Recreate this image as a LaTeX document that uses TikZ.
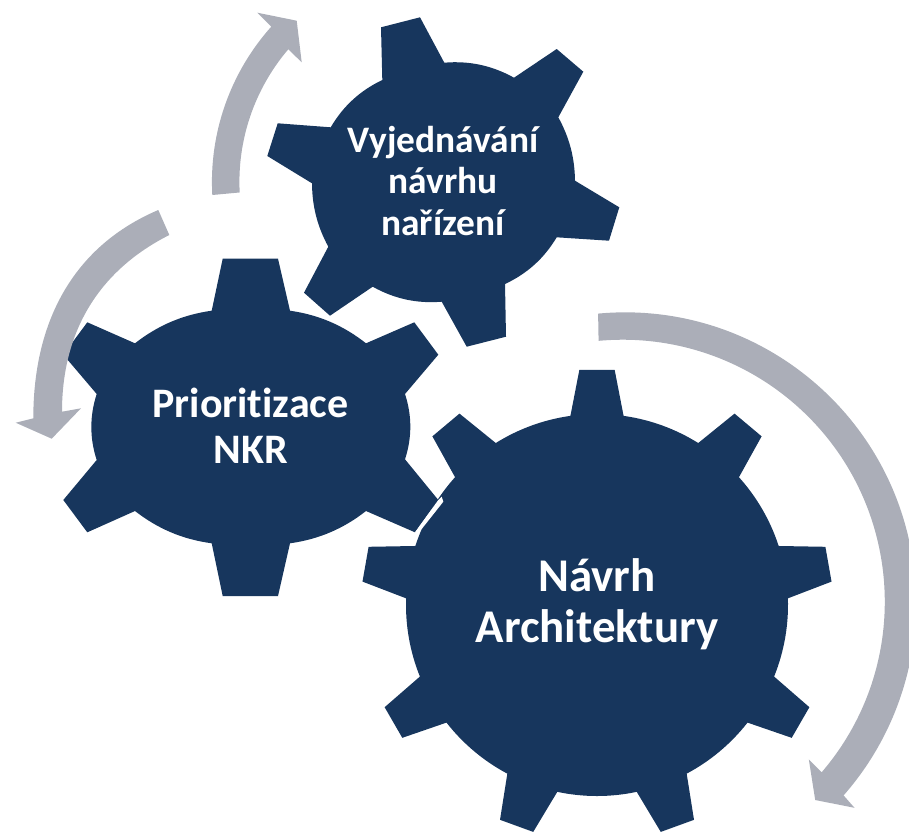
\documentclass[tikz,border=0pt]{standalone}
\usepackage{fontspec}
\setmainfont{Carlito}[Ligatures=CommonOff]
\definecolor{gearblue}{HTML}{17365D}
\definecolor{cyclegray}{HTML}{ABAEB8}

\begin{document}
\begin{tikzpicture}
[x=1pt, y=-1pt,
gearfill/.style = {fill=gearblue},
gearbend/.style = {bend left=#1, looseness=.9},
cyclearrow/.style = {fill=cyclegray},
gapwedge/.style = {fill=white},
geartext/.style 2 args = {text=white, align=center, inner sep=0pt, font=\bfseries\fontsize{#1}{#2}\selectfont}]
\clip (0,0) rectangle (909,833);

% big gear, nine equal teeth
\begin{scope}[shift={(597,605)}]
\fill[gearfill] (-98:191)
  \foreach \a in {-90,-50,...,230} {
    -- (\a-4.3:235.7) -- (\a+4.3:235.7) -- (\a+8:191)
    arc[start angle=\a+8, delta angle=24, radius=191]
  } -- cycle;
\end{scope}

% wide gear
\fill[gearfill] (211.7,310.7) -- (222.7,258.7) -- (278,258.7) -- (290,310.7)
  to[gearbend=15] (366,343.3) -- (414.3,322.3) -- (438.3,354.7) -- (405,394)
  to[gearbend=18] (405,459.3) -- (438.3,500) -- (415,532.3) -- (366,511)
  to[gearbend=15] (290,543.3) -- (278,596) -- (222.7,596) -- (211.7,543.3)
  to[gearbend=15] (135,511) -- (87.3,532.3) -- (63.3,500) -- (96.7,460)
  to[gearbend=18] (96.7,394) -- (63.3,354.7) -- (87.3,322.3) -- (135,343.3)
  to[gearbend=15] cycle;
\fill[gapwedge] (415,532.3) -- (421.7,529) -- (443.3,501.7) -- (441.7,496.7) -- (438.3,500) -- cycle;

% tilted gear
\fill[gearfill] (382.3,80) -- (381,27.3) -- (420,17.3) -- (444.3,62.7)
  to[gearbend=17] (514,77.7) -- (556.7,49) -- (583.3,71.7) -- (558.3,117.3)
  to[gearbend=14] (575,180.7) -- (619.3,207.3) -- (609,240.7) -- (556.7,237.3)
  to[gearbend=17] (505,284) -- (506,336.7) -- (466.7,346.7) -- (441.7,301.7)
  to[gearbend=17] (372.7,286.7) -- (330,315.7) -- (304,292.7) -- (328.3,246.7)
  to[gearbend=14] (312,183.3) -- (267.3,156) -- (277.7,123.3) -- (330.7,127.3)
  to[gearbend=17] cycle;

% arrows of the cycle
\fill[cyclearrow] (212.3,195) arc[start angle=-183.2, end angle=-138.2, radius=233]
  -- (257.3,12.7) -- (296.7,20.7) -- (301.7,62.3) -- (288.3,49.3)
  arc[start angle=-139.5, end angle=-183, radius=204] -- cycle;
\fill[cyclearrow] (158.3,210) .. controls (76,245) and (33.3,318) .. (33.3,418.3)
  -- (15.7,422.7) -- (51.7,438.7) -- (81,408.3) -- (62,411.7)
  .. controls (62,330) and (100,270) .. (169.3,235) -- cycle;
\fill[cyclearrow] (598.1,313.6) arc[start angle=-95.3, end angle=41.3, radius=291]
  -- (854.5,807.8) -- (815.2,800) -- (808.8,759.3) -- (821.7,772.2)
  arc[start angle=40.6, end angle=-95.3, radius=262] -- cycle;

\node[geartext={37.4}{41.7}] (vyjednavani) at (443,181) {Vyjednávání\\návrhu\\nařízení};
\node[geartext={42}{45.7}] (prioritizace) at (250.5,426) {Prioritizace\\NKR};
\node[geartext={46.9}{50.5}] (navrh) at (597,604) {Návrh\\Architektury};
\end{tikzpicture}
\end{document}
